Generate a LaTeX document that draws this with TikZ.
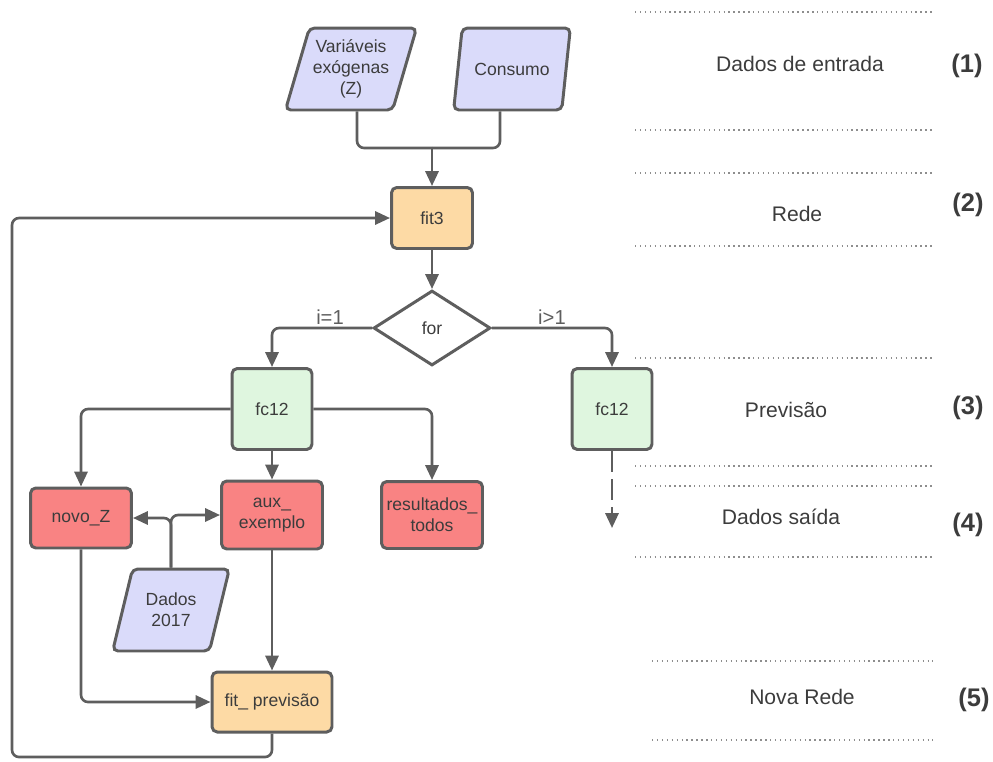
\documentclass[tikz,border=0pt]{standalone}
\usepackage{fontspec}
\setmainfont{Liberation Sans}
\usepackage{tikz}
\usetikzlibrary{positioning, calc, shapes.geometric, arrows.meta}

\definecolor{linegray}{HTML}{5E5E5E}
\definecolor{txtgray}{HTML}{3C3C3C}
\definecolor{fitorange}{HTML}{FDDAA5}
\definecolor{fcgreen}{HTML}{DFF6DF}
\definecolor{outred}{HTML}{F98383}
\definecolor{inblue}{HTML}{DADBFA}

\begin{document}
\begin{tikzpicture}[
    x=0.02cm, y=-0.02cm,
    >={Triangle[length=8.5pt, width=7.5pt]},
    conn/.style={draw=linegray, line width=1.5pt, rounded corners=4pt},
    every edge/.style={conn},
    box/.style={draw=linegray, line width=1.7pt, rounded corners=3pt, align=center, text=txtgray, font=\fontsize{10}{12}\selectfont, inner sep=2pt},
    fitbox/.style={box, fill=fitorange},
    fcbox/.style={box, fill=fcgreen, minimum width=1.6cm, minimum height=1.62cm},
    outbox/.style={box, fill=outred, minimum width=2.02cm},
    dado/.style={box, trapezium, trapezium left angle=70, trapezium right angle=110, trapezium stretches=true, fill=inblue, minimum width=2.34cm, minimum height=1.64cm},
    decisao/.style={draw=linegray, line width=1.7pt, diamond, aspect=1.56, minimum width=2.34cm, minimum height=1.5cm, inner sep=0pt, text=txtgray, font=\fontsize{10}{12}\selectfont},
    ramo/.style={font=\fontsize{11.5}{13}\selectfont, text=linegray, above, inner sep=1pt},
    faixa/.style={draw=linegray!70, dash pattern=on 0.8pt off 2pt, line width=0.8pt},
    etapa/.style={font=\fontsize{12}{14}\selectfont, text=txtgray},
    num/.style={font=\bfseries\fontsize{14.5}{17}\selectfont, text=txtgray}]

    \useasboundingbox (0,0) rectangle (993,761);

    % entradas
    \node at (351,69) [dado] (var) {Variáveis\\exógenas\\(Z)};
    \node at (512,69) [dado] (cons) {Consumo};
    \coordinate (junta) at (432,148);

    % rede e laco
    \node at (432,218) [fitbox, minimum width=1.62cm, minimum height=1.22cm] (fit3) {fit3};
    \node at (432,328) [decisao] (for) {for};
    \node at (272,409) [fcbox] (fcA) {fc12};
    \node at (612,409) [fcbox] (fcB) {fc12};
    \coordinate (saida) at (612,528);

    % saidas
    \node at (81,518) [outbox, minimum height=1.2cm] (novoz) {novo\_Z};
    \node at (272,515) [outbox, minimum height=1.36cm] (aux) {aux\_\\exemplo};
    \node at (432,515) [outbox, minimum height=1.34cm] (res) {resultados\_\\todos};
    \node at (171,610) [dado] (d2017) {Dados\\2017};
    \node at (272,702) [fitbox, minimum width=2.4cm, minimum height=1.2cm] (fitp) {fit\_ previsão};
    \coordinate (volta) at (12,757);

    \draw[conn] ([xshift=0.12cm]var.south) |- (junta);
    \draw[conn] ([xshift=-0.24cm]cons.south) |- (junta);
    \path (junta) edge [->] (fit3);
    \path (fit3) edge [->] (for);
    \draw[conn, ->] (for.west) -| node[ramo, pos=0.21] {i=1} (fcA.north);
    \draw[conn, ->] (for.east) -| node[ramo, pos=0.25] {i>1} (fcB.north);
    \draw[conn, ->] (fcA.west) -| (novoz.north);
    \draw[conn, ->] (fcA.east) -| (res.north);
    \path (fcA) edge [->] (aux);
    \draw[conn, ->] (d2017.north) |- (novoz.east);
    \draw[conn, ->] (d2017.north) |- (aux.west);
    \path (aux) edge [->] (fitp);
    \draw[conn, ->] (novoz.south) |- (fitp.west);
    \draw[conn, ->] (fitp.south) |- (volta) |- (fit3.west);
    \draw[conn, ->, dash pattern=on 12pt off 4pt] (fcB.south) -- (saida);

    % faixas da direita
    \foreach \y in {12,130,173,246,358,466,486,557}
        \draw[faixa] (635,\y) -- (933,\y);
    \foreach \y in {661,740}
        \draw[faixa] (652,\y) -- (933,\y);

    \node at (800,64) [etapa] (entrada) {Dados de entrada};
    \node at (967,66) [num] (n1) {(1)};
    \node at (797,214) [etapa] (rede) {Rede};
    \node at (968,205) [num] (n2) {(2)};
    \node at (786,410) [etapa] (prev) {Previsão};
    \node at (968,408) [num] (n3) {(3)};
    \node at (781,517) [etapa] (saidas) {Dados saída};
    \node at (968,525) [num] (n4) {(4)};
    \node at (802,697) [etapa] (nova) {Nova Rede};
    \node at (974,700) [num] (n5) {(5)};

\end{tikzpicture}
\end{document}
